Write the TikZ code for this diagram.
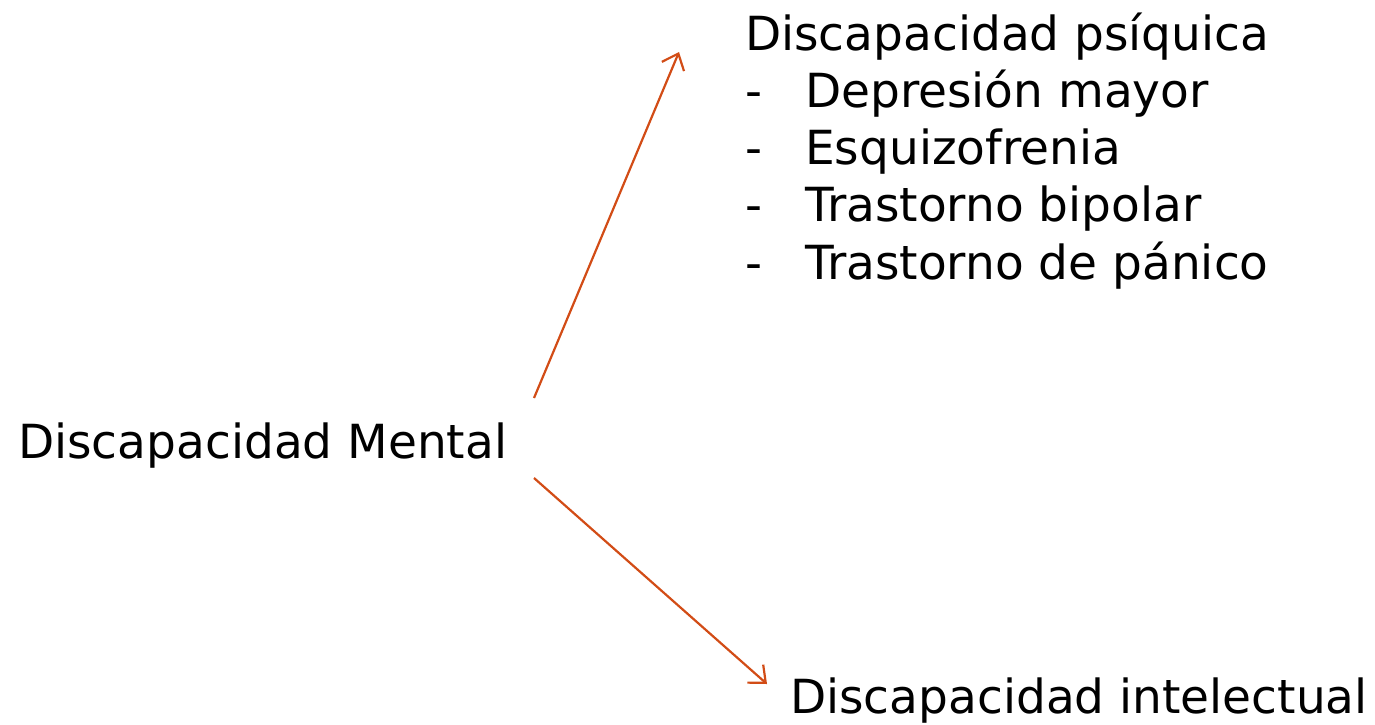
\documentclass[tikz,border=0pt]{standalone}
\usepackage{fontspec}
\setmainfont{DejaVu Sans}
\usetikzlibrary{arrows.meta}
\definecolor{arrowred}{RGB}{210,76,22}

\begin{document}
\begin{tikzpicture}[x=1pt,y=-1pt]
 	\tikzstyle{every node}+=[inner sep=0pt,anchor=base west,font=\fontsize{47}{57}\selectfont]
 	\tikzstyle{link}=[arrowred,line width=2.2pt,-{Straight Barb[length=14pt,width=24pt,line width=2.2pt]}]
 	\useasboundingbox (0,0) rectangle (1375,724);
 	\node (mental) at (18,458) {Discapacidad Mental};
 	\node (psiq) at (745,50) {Discapacidad psíquica};
 	\node (d1) at (745,107) {-};
 	\node (i1) at (805,107) {Depresión mayor};
 	\node (d2) at (745,164) {-};
 	\node (i2) at (805,164) {Esquizofrenia};
 	\node (d3) at (745,221) {-};
 	\node (i3) at (805,221) {Trastorno bipolar};
 	\node (d4) at (745,279) {-};
 	\node (i4) at (805,279) {Trastorno de pánico};
 	\node (intel) at (790,713) {Discapacidad intelectual};
 	\coordinate (up) at (534,398);
 	\coordinate (upend) at (679,52);
 	\coordinate (down) at (534,478);
 	\coordinate (downend) at (767,684);
 	\draw [link] (up) -- (upend);
 	\draw [link] (down) -- (downend);
\end{tikzpicture}
\end{document}
